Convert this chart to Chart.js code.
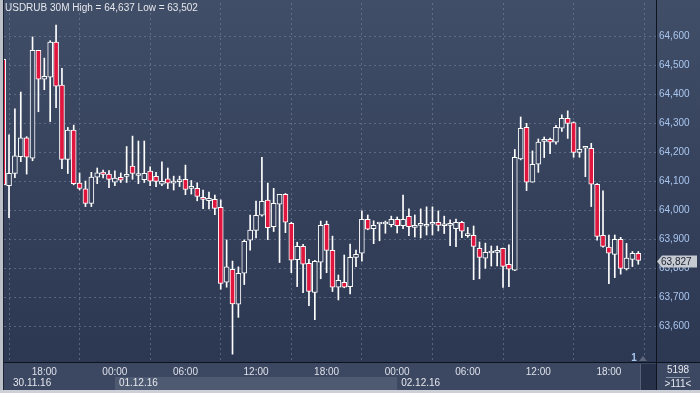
<!DOCTYPE html>
<html><head><meta charset="utf-8">
<script src="https://cdn.jsdelivr.net/npm/chart.js@4.4.1/dist/chart.umd.min.js"></script>
<style>html,body{margin:0;padding:0;background:#3b4660;overflow:hidden}#wrap{width:700px;height:393px}</style>
</head><body><div id="wrap"><canvas id="c" width="700" height="393"></canvas></div>
<script>
// ---- data (30-minute candles, 30.11.16 14:30 -> 02.12.16 20:30) ----
const openP  = [64521,64085,64127,64185,64250,64180,64552,64452,64459,64580,64432,64176,64277,64094,64074,64024,64114,64132,64125,64097,64114,64117,64153,64120,64106,64135,64117,64090,64109,64094,64099,64107,64076,64076,64045,64033,64038,64010,63752,63797,63676,63783,63897,63931,63983,64035,63944,64021,64055,63955,63830,63876,63817,63717,63821,63952,63862,63735,63752,63737,63838,63852,63969,63937,63953,63953,63951,63969,63947,63979,63941,63948,63945,63952,63959,63947,63948,63937,63959,63913,63914,63869,63835,63853,63855,63869,63814,63794,64177,64286,64097,64159,64238,64245,64235,64283,64317,64303,64200,64214,64214,64090,63914,63873,63848,63900,63798,63831,63852];
const highP  = [64530,64260,64350,64408,64254,64598,64552,64525,64585,64639,64490,64286,64294,64129,64101,64131,64146,64139,64137,64136,64129,64220,64256,64239,64239,64150,64131,64167,64146,64118,64118,64156,64103,64095,64070,64063,64053,64036,63898,63825,63805,63898,63984,64032,64183,64094,64076,64055,64058,63959,63890,63883,63831,63828,63963,63963,63911,63777,63846,63884,63863,63998,63984,63964,63955,63963,63980,63977,64053,64005,63984,64005,64012,64012,63998,63980,63967,63970,63962,63941,63946,63891,63887,63877,63877,63870,63881,64210,64322,64300,64205,64246,64253,64249,64293,64329,64343,64305,64286,64216,64231,64092,64067,63915,63915,63907,63886,63858,63858];
const lowP   = [64080,63975,64113,64168,64125,64171,64340,64416,64306,64354,64144,64127,64088,64070,64013,64013,64092,64112,64078,64085,64096,64096,64107,64092,64096,64085,64082,64085,64075,64070,64082,64054,64056,64033,64006,64005,63985,63728,63735,63504,63631,63744,63863,63905,63980,63899,63927,63820,63923,63785,63737,63716,63671,63623,63764,63785,63720,63691,63733,63712,63806,63825,63933,63885,63895,63921,63943,63922,63937,63913,63908,63905,63915,63915,63929,63920,63878,63875,63906,63907,63761,63764,63800,63808,63808,63734,63737,63792,64174,64068,64097,64131,64182,64195,64228,64272,64248,64183,64183,64116,64013,63897,63873,63747,63768,63780,63794,63806,63814];
const closeP = [64088,64128,64188,64250,64183,64552,64452,64462,64580,64428,64176,64277,64092,64076,64024,64115,64129,64124,64107,64111,64104,64121,64127,64126,64128,64101,64100,64100,64094,64098,64105,64072,64079,64048,64038,64041,64007,63748,63805,63677,63783,63893,63932,63983,64031,63940,64024,64055,63959,63828,63876,63814,63720,63824,63948,63862,63735,63759,63735,63838,63848,63969,63935,63948,63955,63953,63969,63947,63969,63944,63941,63948,63948,63959,63948,63947,63950,63959,63928,63913,63876,63838,63855,63853,63858,63807,63797,64183,64283,64097,64159,64235,64241,64235,64286,64317,64300,64200,64210,64214,64090,63910,63876,63852,63900,63800,63835,63852,63827];
const timeTickIdx    = [7,19,31,43,55,67,79,91,103];
const timeTickLabels = ['18:00','00:00','06:00','12:00','18:00','00:00','06:00','12:00','18:00'];
const dateIdx    = [1,19,67];
const dateLabels = ['30.11.16','01.12.16','02.12.16'];
const priceTicks = [63600,63700,63800,63900,64000,64100,64200,64300,64400,64500,64600];
const lastPrice  = 63827;
const titleText  = 'USDRUB 30M High = 64,637 Low = 63,502';
const barCount = '5198', barInfo = '>111<', pageNo = '1';

const FONT = '"Liberation Sans", Arial, sans-serif';
const canvas = document.getElementById('c');
const ctx0 = canvas.getContext('2d');
const plotGrad = ctx0.createLinearGradient(0,0,0,362);
plotGrad.addColorStop(0,'#414e68');
plotGrad.addColorStop(0.5,'#36425c');
plotGrad.addColorStop(1,'#2c3751');
const RED = '#e0163e';

const idx = openP.map((_,i)=>i);
const bodies = idx.map(i=>({x:i, y:[openP[i], closeP[i]]}));
const wicks  = idx.map(i=>({x:i, y:[lowP[i], highP[i]]}));
const bodyColors = idx.map(i=> closeP[i] < openP[i] ? RED : plotGrad);
const fmt = v => Math.round(v).toLocaleString('en-US');

const deco = {
  id:'deco',
  beforeDraw(chart){
    const {ctx, chartArea:a} = chart;
    const xs = chart.scales.x;
    ctx.save();
    ctx.fillStyle = '#3c4761'; ctx.fillRect(0,0,700,393);
    ctx.fillStyle = plotGrad; ctx.fillRect(0,0,700,a.bottom);
    const x1 = xs.getPixelForValue(dateIdx[1]), x2 = xs.getPixelForValue(dateIdx[2]);
    ctx.fillStyle = '#4e5a72'; ctx.fillRect(x1,377,x2-x1,13);
    ctx.fillStyle = '#27314a'; ctx.fillRect(640,364,16,26);
    ctx.fillStyle = '#56617a'; ctx.fillRect(640,364,1,26);
    ctx.restore();
  },
  afterDraw(chart){
    const {ctx, chartArea:a} = chart;
    const xs = chart.scales.x, ys = chart.scales.y;
    ctx.save();
    ctx.fillStyle = '#0e1320';
    ctx.fillRect(656,0,1,390);
    ctx.fillRect(3,362,697,1);
    ctx.fillStyle = '#1c2333'; ctx.fillRect(3,0,1,390);
    ctx.fillStyle = '#bcc1c9'; ctx.fillRect(0,0,3,393);
    ctx.fillStyle = '#cdd1d7'; ctx.fillRect(0,390,700,3);
    ctx.font = '10px ' + FONT; ctx.textBaseline = 'middle'; ctx.textAlign = 'left';
    ctx.fillStyle = '#e4e7ec';
    ctx.fillText(titleText, 5, 8.5);
    ctx.fillStyle = '#e6e9ee';
    dateIdx.forEach((d,k)=>{ ctx.fillText(dateLabels[k], xs.getPixelForValue(d)+4, 383); });
    ctx.fillStyle = '#a9c6ef'; ctx.font = 'bold 10px ' + FONT; ctx.textAlign='center';
    ctx.fillText(pageNo, 634, 358);
    ctx.fillStyle = '#5d667a';
    ctx.beginPath(); ctx.moveTo(639,361); ctx.lineTo(643,356); ctx.lineTo(647,361); ctx.closePath(); ctx.fill();
    ctx.font = '10px ' + FONT; ctx.fillStyle = '#e6e9ee';
    ctx.fillText(barCount, 678, 370);
    ctx.fillText(barInfo, 678, 384);
    ctx.fillStyle = '#8a94a8'; ctx.fillRect(666,377,24,1);
    const py = Math.round(ys.getPixelForValue(lastPrice)) + 0.5;
    ctx.fillStyle = '#c6cad1';
    ctx.beginPath();
    ctx.moveTo(657,py); ctx.lineTo(662,py-6); ctx.lineTo(697,py-6); ctx.lineTo(697,py+6); ctx.lineTo(662,py+6); ctx.closePath(); ctx.fill();
    ctx.fillStyle = '#1a2131'; ctx.textAlign='left';
    ctx.fillText(fmt(lastPrice), 661, py+0.5);
    ctx.restore();
  }
};

new Chart(canvas, {
  type:'bar',
  data:{ datasets:[
    { label:'wick', data:wicks, backgroundColor:'#ffffff', borderWidth:0, barThickness:1, grouped:false, order:2 },
    { label:'body', data:bodies, backgroundColor:bodyColors, borderColor:'#ffffff', borderWidth:1, borderSkipped:false, barThickness:5, minBarLength:2, grouped:false, order:1 }
  ]},
  options:{
    responsive:false, animation:false, devicePixelRatio:1,
    layout:{ padding:{left:4, top:3, right:0, bottom:0} },
    plugins:{ legend:{display:false}, tooltip:{enabled:false}, title:{display:false} },
    scales:{
      x:{ type:'linear', min:0.147, max:111.01, offset:false,
          afterBuildTicks: s => { s.ticks = timeTickIdx.map(v=>({value:v})); },
          afterFit: s => { s.height = 31; },
          grid:{ color:'rgba(120,136,165,0.55)', drawTicks:false, lineWidth:1 },
          border:{ display:false, dash:[2,3] },
          ticks:{ color:'#dde2ea', font:{family:FONT, size:10}, padding:4, maxRotation:0, autoSkip:false,
                  callback:(v)=>{ const k = timeTickIdx.indexOf(v); return k>=0 ? timeTickLabels[k] : ''; } } },
      y:{ type:'linear', position:'right', min:63477, max:64715,
          afterBuildTicks: s => { s.ticks = priceTicks.map(v=>({value:v})); },
          afterFit: s => { s.width = 44; },
          grid:{ color:'rgba(120,136,165,0.55)', drawTicks:true, tickLength:3, tickColor:'rgba(0,0,0,0)', lineWidth:1 },
          border:{ display:false, dash:[2,3] },
          ticks:{ color:'#a9c6ef', font:{family:FONT, size:10, lineHeight:0.5}, padding:0, autoSkip:false,
                  callback:(v)=>fmt(v) } }
    }
  },
  plugins:[deco]
});
</script></body></html>
